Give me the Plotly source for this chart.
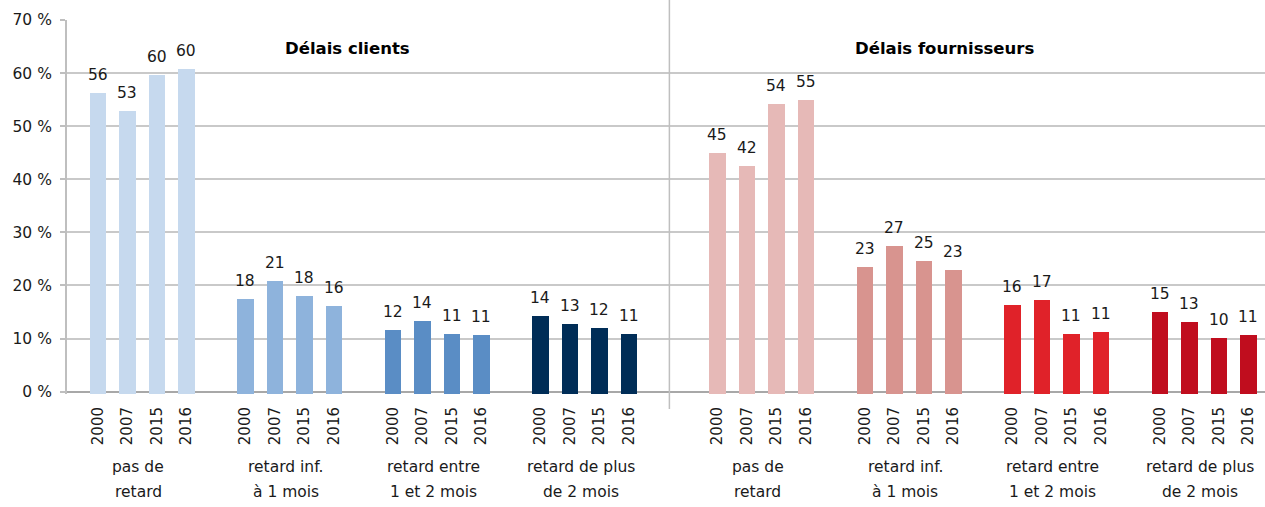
import plotly.graph_objects as go

# ---------------- data ----------------
years = ["2000", "2007", "2015", "2016"]
categories_line1 = ["pas de", "retard inf.", "retard entre", "retard de plus"]
categories_line2 = ["retard", "à 1 mois", "1 et 2 mois", "de 2 mois"]
panel_titles = ["Délais clients", "Délais fournisseurs"]

# Délais clients (bar heights, %)
clients_pas_de_retard = [56.2, 52.8, 59.6, 60.7]
clients_inf_1_mois = [17.5, 20.9, 18.1, 16.2]
clients_1_2_mois = [11.7, 13.3, 10.8, 10.6]
clients_plus_2_mois = [14.2, 12.7, 11.9, 10.8]
# Délais fournisseurs (bar heights, %)
fourn_pas_de_retard = [44.9, 42.5, 54.2, 54.9]
fourn_inf_1_mois = [23.4, 27.4, 24.6, 23.0]
fourn_1_2_mois = [16.3, 17.2, 10.8, 11.2]
fourn_plus_2_mois = [15.0, 13.1, 10.1, 10.6]

# data labels as printed on the chart
clients_labels = [[56, 53, 60, 60], [18, 21, 18, 16], [12, 14, 11, 11], [14, 13, 12, 11]]
fourn_labels = [[45, 42, 54, 55], [23, 27, 25, 23], [16, 17, 11, 11], [15, 13, 10, 11]]

y_tickvals = [0, 10, 20, 30, 40, 50, 60, 70]
y_ticktext = ["0 %", "10 %", "20 %", "30 %", "40 %", "50 %", "60 %", "70 %"]

# ---------------- styling ----------------
clients_colors = ["#C6D9EE", "#8EB3DC", "#5A8DC5", "#002D57"]
fourn_colors = ["#E6B9B7", "#D8948F", "#E02229", "#C00D1E"]
FONT = "DejaVu Sans"
BASE = -0.45  # bars poke slightly below the zero line, as in the reference

panels = [
    ([clients_pas_de_retard, clients_inf_1_mois, clients_1_2_mois, clients_plus_2_mois],
     clients_labels, clients_colors),
    ([fourn_pas_de_retard, fourn_inf_1_mois, fourn_1_2_mois, fourn_plus_2_mois],
     fourn_labels, fourn_colors),
]

fig = go.Figure()
annotations = []
tickvals, ticktext = [], []
group_centers = []

for p, (series_list, labels_list, colors) in enumerate(panels):
    for g, (vals, labs, col) in enumerate(zip(series_list, labels_list, colors)):
        gi = p * 4 + g
        start = 5 * gi + p  # one extra empty slot between the two panels
        xs = [start + i for i in range(len(vals))]
        group_centers.append(start + (len(vals) - 1) / 2)
        fig.add_trace(go.Bar(
            x=xs, y=[v - BASE for v in vals], base=BASE,
            marker=dict(color=col, line=dict(width=0)),
            width=0.56, showlegend=False, hoverinfo="skip",
        ))
        tickvals += xs
        ticktext += years
        for x, v, lab in zip(xs, vals, labs):
            annotations.append(dict(
                x=x, y=v, xref="x", yref="y", text=str(lab), showarrow=False,
                yanchor="bottom", yshift=7,
                font=dict(family=FONT, size=15.5, color="#1a1a1a"),
            ))

# category labels (two lines each)
for gi, c in enumerate(group_centers):
    k = gi % 4
    for txt, sh in ((categories_line1[k], -73), (categories_line2[k], -98)):
        annotations.append(dict(
            x=c, y=0, xref="x", yref="paper", text=txt, showarrow=False,
            yanchor="middle", yshift=sh, xshift=-4,
            font=dict(family=FONT, size=15.5, color="#1a1a1a"),
        ))

# panel titles
for txt, xc in zip(panel_titles, [8.47, 28.7]):
    annotations.append(dict(
        x=xc, y=0.925, xref="x", yref="paper", text="<b>" + txt + "</b>",
        showarrow=False, yanchor="middle",
        font=dict(family=FONT, size=16.5, color="#000000"),
    ))

fig.update_layout(
    width=1265, height=507,
    margin=dict(l=67, r=0, t=20, b=113),
    paper_bgcolor="white", plot_bgcolor="white",
    bargap=0,
    annotations=annotations,
    shapes=[dict(type="line", xref="x", yref="paper", x0=19.37, x1=19.37,
                 y0=-0.04, y1=1.06, line=dict(color="#BFBFBF", width=1.5))],
    font=dict(family=FONT, color="#1a1a1a"),
)
fig.update_xaxes(
    range=[-1.05, 39.56], tickmode="array", tickvals=tickvals, ticktext=ticktext,
    tickangle=-90, ticks="", showgrid=False, zeroline=False, showline=False,
    tickfont=dict(family=FONT, size=15, color="#1a1a1a"), ticklabelstandoff=9,
)
fig.update_yaxes(
    range=[BASE, 70], tickmode="array", tickvals=y_tickvals, ticktext=y_ticktext,
    showgrid=True, gridcolor="#C9C9C9", gridwidth=1.5,
    zeroline=True, zerolinecolor="#A8A8A8", zerolinewidth=2,
    showline=True, linecolor="#BFBFBF", linewidth=2,
    ticks="outside", ticklen=5, tickcolor="#BFBFBF", tickwidth=1.5,
    tickfont=dict(family=FONT, size=15.5, color="#1a1a1a"), ticklabelstandoff=5,
)

fig.write_html(
    "out.html",
    config={"displayModeBar": False},
    post_script="document.body.style.margin='0';document.body.style.overflow='hidden';",
)
